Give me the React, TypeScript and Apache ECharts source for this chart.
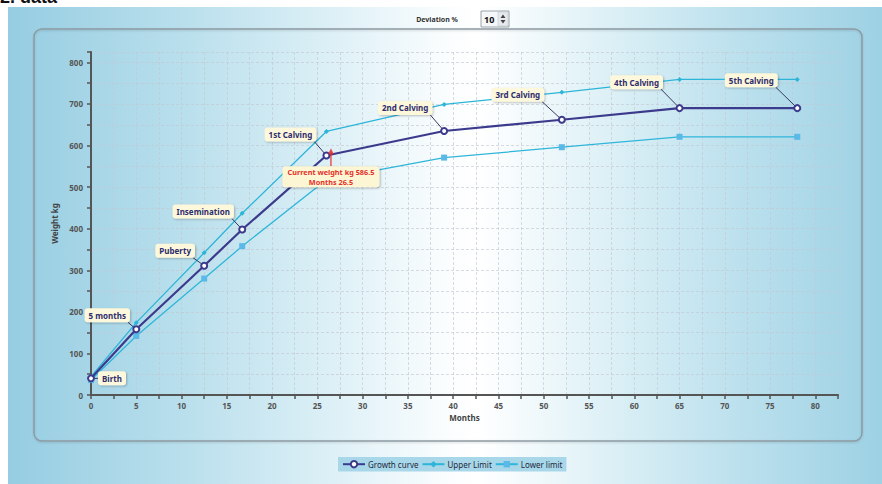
import React, { useEffect, useRef } from "react";
import * as echarts from "echarts";

const months = [0, 5, 12.5, 16.7, 26, 39, 52, 65, 78];
const growth = [40, 158, 311, 398, 576, 635, 662, 690, 690];
const upper = [44, 174, 342, 437, 634, 699, 728, 759, 759];
const lower = [36, 142, 280, 358, 518, 571, 596, 621, 621];
const milestones = [
  "Birth",
  "5 months",
  "Puberty",
  "Insemination",
  "1st Calving",
  "2nd Calving",
  "3rd Calving",
  "4th Calving",
  "5th Calving",
];
const currentMonth = 26.5;
const currentWeight = 586.5;
const deviation = 10;

// label offsets (px) from the point to the label centre
const labelOffsets = [
  [21, 0],
  [-29, -14],
  [-29, -15],
  [-39, -18],
  [-36, -21],
  [-39, -23],
  [-44, -25],
  [-43, -26],
  [-46, -28],
];

const FONT = "'Noto Sans', 'DejaVu Sans', sans-serif";
const LABEL_FONT = `bold 8px ${FONT}`;
const CURRENT_FONT = `bold 7.3px ${FONT}`;

export default function App() {
  const ref = useRef<HTMLDivElement>(null);
  useEffect(() => {
    if (!ref.current) return;
    const chart = echarts.init(ref.current, undefined, { renderer: "svg" });
    const labelBox = {
      backgroundColor: "#fdf8dc",
      borderRadius: 3,
      padding: [3, 4],
      shadowColor: "rgba(0,0,0,0.25)",
      shadowBlur: 2,
      shadowOffsetX: 1,
      shadowOffsetY: 1,
      fontFamily: FONT,
      fontSize: 8,
      fontWeight: "bold",
    };
    const staticGraphic: any[] = [
      {
        type: "text",
        left: 0,
        top: -12,
        style: { text: "2. data", fill: "#111", font: "bold 18px sans-serif" },
      },
      {
        type: "rect",
        z: -1,
        shape: { x: 34, y: 29, width: 828, height: 412, r: 8 },
        style: {
          fill: "none",
          stroke: "#8d9ba3",
          lineWidth: 1.5,
          shadowColor: "rgba(0,0,0,0.15)",
          shadowBlur: 2,
          shadowOffsetY: 1,
        },
      },
      {
        type: "text",
        x: 437,
        y: 19,
        style: {
          text: "Deviation %",
          fill: "#333",
          font: `bold 7px ${FONT}`,
          align: "center",
          verticalAlign: "middle",
        },
      },
      {
        type: "rect",
        shape: { x: 481, y: 11, width: 28, height: 16 },
        style: { fill: "#f4f6f8", stroke: "#9aa4aa", lineWidth: 1 },
      },
      {
        type: "rect",
        shape: { x: 498, y: 12, width: 10, height: 14 },
        style: { fill: "#e6eaee", stroke: "#b5bcc2", lineWidth: 0.5 },
      },
      {
        type: "text",
        x: 484,
        y: 19,
        style: {
          text: String(deviation),
          fill: "#111",
          font: `bold 9px ${FONT}`,
          verticalAlign: "middle",
        },
      },
      {
        type: "polygon",
        shape: { points: [[500.5, 18], [505.5, 18], [503, 14.5]] },
        style: { fill: "#444" },
      },
      {
        type: "polygon",
        shape: { points: [[500.5, 20], [505.5, 20], [503, 23.5]] },
        style: { fill: "#444" },
      },
    ];
    chart.setOption({
      animation: false,
      backgroundColor: "transparent",
      textStyle: { fontFamily: FONT },
      grid: { left: 91, right: 44, top: 52, bottom: 89 },
      legend: {
        data: ["Growth curve", "Upper Limit", "Lower limit"],
        left: 338,
        top: 457,
        padding: [3, 4],
        itemGap: 3,
        itemWidth: 22,
        itemHeight: 8,
        backgroundColor: "#a9d7ea",
        textStyle: { fontSize: 8, color: "#1e2a3a", fontFamily: FONT, padding: [0, 0, 0, -2] },
      },
      xAxis: {
        type: "value",
        min: 0,
        max: 82.5,
        interval: 2.5,
        name: "Months",
        nameLocation: "middle",
        nameGap: 16,
        nameTextStyle: { fontSize: 8, fontWeight: "bold", color: "#444" },
        axisLine: { lineStyle: { color: "#555", width: 2 } },
        axisTick: { length: 4, lineStyle: { color: "#555", width: 1.5 } },
        axisLabel: {
          fontSize: 8,
          fontWeight: "bold",
          color: "#555",
          margin: 6,
          formatter: (v: number) => (v % 5 === 0 ? String(v) : ""),
        },
        splitLine: {
          show: true,
          lineStyle: { color: "rgba(195,200,210,0.65)", type: [3, 2], width: 1 },
        },
      },
      yAxis: {
        type: "value",
        min: 0,
        max: 825,
        interval: 50,
        name: "Weight kg",
        nameLocation: "middle",
        nameGap: 27,
        nameTextStyle: { fontSize: 8, fontWeight: "bold", color: "#444" },
        axisLine: { show: true, lineStyle: { color: "#555", width: 2 } },
        axisTick: { show: true, length: 4, lineStyle: { color: "#555", width: 1.5 } },
        axisLabel: {
          fontSize: 8,
          fontWeight: "bold",
          color: "#555",
          margin: 8,
          formatter: (v: number) => (v % 100 === 0 ? String(v) : ""),
        },
        splitLine: {
          show: true,
          lineStyle: { color: "rgba(195,200,210,0.65)", type: [3, 2], width: 1 },
        },
      },
      series: [
        {
          name: "Lower limit",
          type: "line",
          data: months.map((m, i) => [m, lower[i]]),
          symbol: "rect",
          symbolSize: 6,
          lineStyle: { color: "#2fb6da", width: 1.3 },
          itemStyle: { color: "#5ab9e6" },
          z: 2,
        },
        {
          name: "Upper Limit",
          type: "line",
          data: months.map((m, i) => [m, upper[i]]),
          symbol: "diamond",
          symbolSize: 5,
          lineStyle: { color: "#2cb5d8", width: 1.3 },
          itemStyle: { color: "#2cb5d8" },
          z: 2,
        },
        {
          name: "Growth curve",
          type: "line",
          data: months.map((m, i) => ({ value: [m, growth[i]], name: milestones[i] })),
          symbol: "emptyCircle",
          symbolSize: 6,
          lineStyle: { color: "#3c3a8c", width: 2.2 },
          itemStyle: { color: "#3c3a8c", borderWidth: 1.3 },
          z: 3,
          label: {
            show: true,
            position: "inside",
            formatter: "{b}",
            color: "#2d2c6e",
            ...labelBox,
          },
          labelLayout: (p: any) => ({
            dx: labelOffsets[p.dataIndex][0],
            dy: labelOffsets[p.dataIndex][1],
          }),
        },
        {
          name: "Current",
          type: "scatter",
          data: [[currentMonth, currentWeight]],
          symbol: "triangle",
          symbolSize: 6,
          itemStyle: { color: "#e5302a" },
          z: 4,
        },
      ],
      graphic: staticGraphic,
    });

    // leader lines and the current-weight label, placed through the axes' own scales
    const ctx = document.createElement("canvas").getContext("2d")!;
    ctx.font = LABEL_FONT;
    const leaders: any[] = months.map((m, i) => {
      const p = chart.convertToPixel({ gridIndex: 0 }, [m, growth[i]]) as number[];
      const [dx, dy] = labelOffsets[i];
      const hw = ctx.measureText(milestones[i]).width / 2 + 4;
      const hh = 7;
      const cx = p[0] + dx;
      const cy = p[1] + dy;
      const end = dx > 0 ? [cx - hw, cy] : [cx + hw - 2, cy + hh];
      return {
        type: "line",
        z: 3,
        shape: { x1: p[0], y1: p[1], x2: end[0], y2: end[1] },
        style: { stroke: "#3a3960", lineWidth: 1 },
      };
    });
    const cp = chart.convertToPixel({ gridIndex: 0 }, [currentMonth, currentWeight]) as number[];
    const line1 = `Current weight kg ${currentWeight}`;
    const line2 = `Months ${currentMonth}`;
    ctx.font = CURRENT_FONT;
    const bw = Math.max(ctx.measureText(line1).width, ctx.measureText(line2).width) + 10;
    const top = cp[1] + 15;
    const currentLabel = [
      {
        type: "rect",
        z: 9,
        shape: { x: cp[0] - bw / 2, y: top, width: bw, height: 21, r: 3 },
        style: {
          fill: "#fdf6d4",
          shadowColor: "rgba(0,0,0,0.3)",
          shadowBlur: 2,
          shadowOffsetX: 1,
          shadowOffsetY: 1,
        },
      },
      {
        type: "text",
        z: 10,
        x: cp[0],
        y: top + 6,
        style: { text: line1, fill: "#e5302a", font: CURRENT_FONT, align: "center", verticalAlign: "middle" },
      },
      {
        type: "text",
        z: 10,
        x: cp[0],
        y: top + 15.5,
        style: { text: line2, fill: "#e5302a", font: CURRENT_FONT, align: "center", verticalAlign: "middle" },
      },
    ];
    const currentLine = {
      type: "line",
      z: 9,
      shape: { x1: cp[0], y1: cp[1], x2: cp[0], y2: top },
      style: { stroke: "#e5302a", lineWidth: 1.2 },
    };
    chart.setOption({ graphic: [...staticGraphic, ...leaders, currentLine, ...currentLabel] });
    return () => chart.dispose();
  }, []);

  return (
    <div
      style={{
        position: "fixed",
        left: 0,
        top: 0,
        width: 882,
        height: 484,
        background: "#fff",
        overflow: "hidden",
      }}
    >
      <div
        style={{
          position: "absolute",
          left: 8,
          top: 7,
          width: 874,
          height: 477,
          background:
            "linear-gradient(90deg, #96cde2 0%, #b9dfec 20%, #dff1f7 38%, #fafdfe 50%, #ffffff 54%, #e3f3f8 66%, #bfe2ee 82%, #9dd1e4 100%)",
        }}
      />
      <div ref={ref} style={{ position: "absolute", left: 0, top: 0, width: 882, height: 484 }} />
    </div>
  );
}
